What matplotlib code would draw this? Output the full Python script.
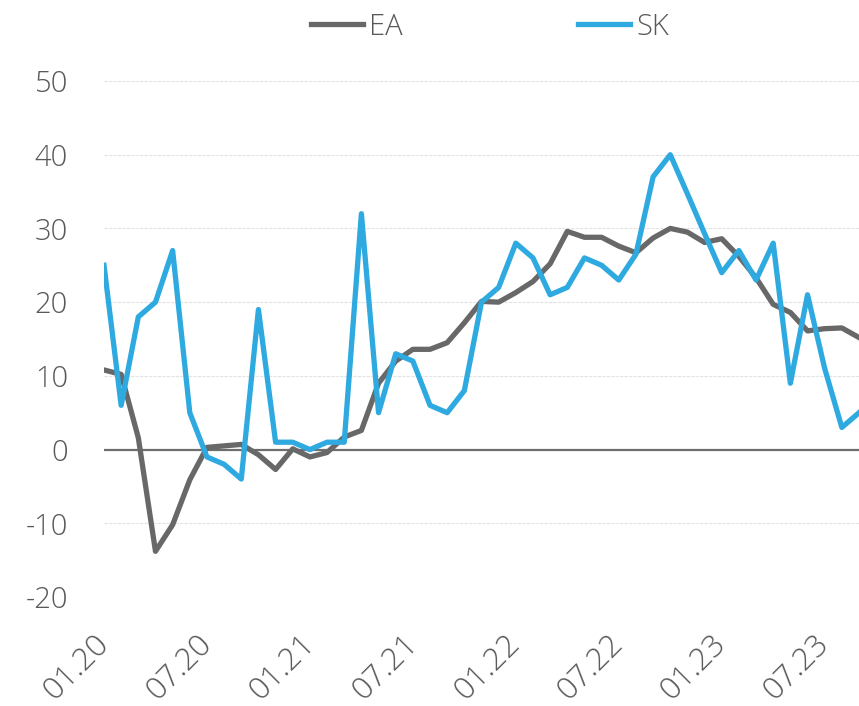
import matplotlib
matplotlib.use("Agg")
import matplotlib.pyplot as plt

# monthly data, 01.20 .. 09.23
months = ["01.20", "02.20", "03.20", "04.20", "05.20", "06.20", "07.20", "08.20", "09.20",
          "10.20", "11.20", "12.20", "01.21", "02.21", "03.21", "04.21", "05.21", "06.21",
          "07.21", "08.21", "09.21", "10.21", "11.21", "12.21", "01.22", "02.22", "03.22",
          "04.22", "05.22", "06.22", "07.22", "08.22", "09.22", "10.22", "11.22", "12.22",
          "01.23", "02.23", "03.23", "04.23", "05.23", "06.23", "07.23", "08.23", "09.23"]

ea = [10.8, 10.2, 1.6, -13.8, -10.2, -4.1, 0.3, 0.5, 0.7, -0.7, -2.7, 0.1, -1.0, -0.4, 1.7,
      2.6, 9.0, 12.0, 13.6, 13.6, 14.5, 17.2, 20.1, 20.0, 21.3, 22.8, 25.2, 29.6, 28.8, 28.8,
      27.6, 26.7, 28.7, 30.0, 29.5, 28.1, 28.6, 26.2, 23.3, 19.7, 18.6, 16.1, 16.4, 16.5, 15.2]

sk = [25, 6, 18, 20, 27, 5, -1, -2, -4, 19, 1, 1, 0, 1, 1, 32, 5, 13, 12, 6, 5, 8, 20, 22,
      28, 26, 21, 22, 26, 25, 23, 26.5, 37, 40, 34.7, 29.3, 24, 27, 23, 28, 9, 21, 11, 3, 5]

yticks = [-20, -10, 0, 10, 20, 30, 40, 50]

txt = "#595959"
plt.rcParams["font.family"] = ["Open Sans", "DejaVu Sans"]

fig = plt.figure(figsize=(8.59, 7.06), dpi=100)
ax = fig.add_axes([104 / 859, 109 / 706, 1 - 104 / 859, (597 - 81) / 706])

x = list(range(len(months)))
l1, = ax.plot(x, ea, color="#686868", lw=3.8, solid_joinstyle="round", label="EA")
l2, = ax.plot(x, sk, color="#2eaae1", lw=3.8, solid_joinstyle="round", label="SK")

ax.axhline(0, color="#6e6e6e", lw=1.6, zorder=1)
for v in yticks:
    if v != 0:
        ax.axhline(v, color="#e3e3e3", lw=0.8, ls=(0, (3, 1)), zorder=0)

ax.set_xlim(0, len(months) - 1)
ax.set_ylim(-20, 50)
ax.set_yticks(yticks)
ax.set_yticklabels([str(v) for v in yticks], fontsize=21, color=txt, fontweight="light")
ax.tick_params(axis="y", length=0, pad=26)

ax.set_xticks(x[::6])
ax.set_xticklabels(months[::6], fontsize=22.5, color=txt, fontweight="light",
                   rotation=45, ha="right", va="center", rotation_mode="anchor")
ax.tick_params(axis="x", length=0, pad=31)

for s in ax.spines.values():
    s.set_visible(False)

leg = fig.legend(handles=[l1, l2], loc="center", bbox_to_anchor=(490 / 859, 0.962),
                 ncol=2, frameon=False, fontsize=21, handlelength=1.8,
                 handletextpad=0.2, columnspacing=6.0)
for t in leg.get_texts():
    t.set_color(txt)
    t.set_fontweight("light")

fig.savefig("out.png", dpi=100)
